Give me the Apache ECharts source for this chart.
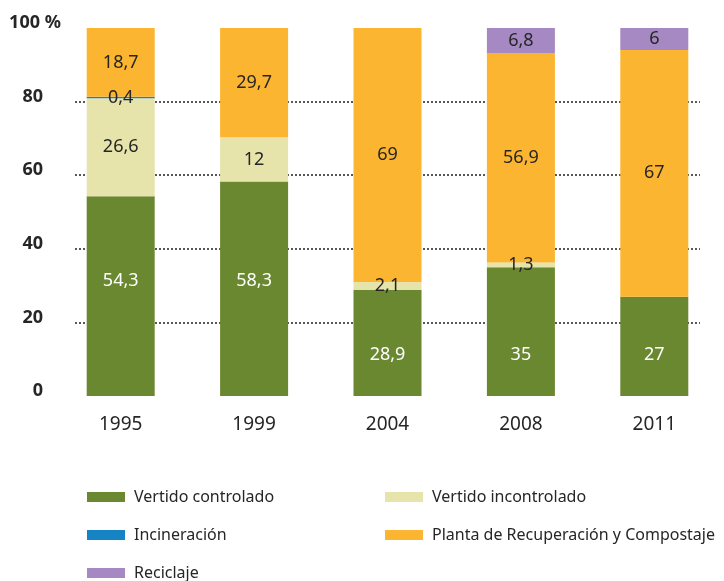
<!DOCTYPE html>
<html>
<head>
<meta charset="utf-8">
<script src="https://cdn.jsdelivr.net/npm/echarts@6/dist/echarts.min.js"></script>
<style>
  html, body { margin: 0; padding: 0; background: #fff; }
  #chart { width: 724px; height: 581px; }
</style>
</head>
<body>
<div id="chart"></div>
<script>
// datos (%)
const years = ['1995', '1999', '2004', '2008', '2011']
const vertidoControlado = [54.3, 58.3, 28.9, 35, 27]
const vertidoIncontrolado = [26.6, 12, 2.1, 1.3, 0]
const incineracion = [0.4, 0, 0, 0, 0]
const plantaRecuperacion = [18.7, 29.7, 69, 56.9, 67]
const reciclaje = [0, 0, 0, 6.8, 6]
const yTicks = [0, 20, 40, 60, 80, 100]

const FONT = '"Noto Sans", sans-serif'
const DARK = '#262626'

// etiquetas verdes algo desplazadas en el original
const greenLabelDist = [106, 106, 32, 32, 32]

const fmt = v => v ? String(v).replace('.', ',') : ''

function labelStyle(color) {
  return {
    show: true,
    position: 'inside',
    color: color,
    fontFamily: FONT,
    fontSize: 18,
    formatter: p => fmt(p.value)
  }
}

function barSeries(name, values, color, labelColor) {
  return {
    name: name,
    type: 'bar',
    stack: 'total',
    xAxisIndex: 1,
    yAxisIndex: 1,
    barWidth: 68,
    itemStyle: { color: color },
    label: labelStyle(labelColor),
    data: values
  }
}

const series = [
  barSeries('Vertido controlado', vertidoControlado, '#6a8830', '#ffffff'),
  barSeries('Vertido incontrolado', vertidoIncontrolado, '#e6e4aa', DARK),
  barSeries('Incineración', incineracion, '#1683c4', DARK),
  barSeries('Planta de Recuperación y Compostaje', plantaRecuperacion, '#fbb530', DARK),
  barSeries('Reciclaje', reciclaje, '#a688c2', DARK)
]
series[0].data = vertidoControlado.map((v, i) => ({
  value: v,
  label: { position: 'insideBottom', distance: greenLabelDist[i] }
}))

const legendText = {
  fontFamily: FONT,
  fontSize: 16,
  color: DARK,
  lineHeight: 16,
  padding: [0, 0, 0, 4]
}

const legendBase = {
  top: 489, orient: 'vertical', padding: 0,
  itemWidth: 38, itemHeight: 10, itemGap: 22, icon: 'rect',
  textStyle: legendText
}

const option = {
  animation: false,
  grid: [
    { left: 75, right: 24, top: 28, bottom: 185 },
    { left: 54, right: 3, top: 28, bottom: 185 }
  ],
  legend: [
    Object.assign({ left: 87, data: ['Vertido controlado', 'Incineración', 'Reciclaje'] }, legendBase),
    Object.assign({ left: 385, data: ['Vertido incontrolado', 'Planta de Recuperación y Compostaje'] }, legendBase)
  ],
  xAxis: [
    { type: 'category', gridIndex: 0, data: years, show: false },
    {
      type: 'category', gridIndex: 1, data: years,
      axisLine: { show: false },
      axisTick: { show: false },
      axisLabel: { margin: 19, color: DARK, fontFamily: FONT, fontSize: 19 }
    }
  ],
  yAxis: [
    {
      type: 'value', gridIndex: 0,
      min: yTicks[0], max: yTicks[yTicks.length - 1], interval: 20,
      axisLine: { show: false },
      axisTick: { show: false },
      axisLabel: {
        margin: 32,
        color: DARK,
        fontFamily: FONT,
        fontSize: 18,
        fontWeight: 'bold',
        padding: [0, 0, 10, 0],
        formatter: v => v === 100 ? '{n|100}{p| %}' : String(v),
        rich: {
          n: { fontFamily: FONT, fontSize: 18, fontWeight: 'bold', color: DARK, align: 'left' },
          p: { fontFamily: FONT, fontSize: 18, fontWeight: 'bold', color: DARK, align: 'left', width: 3 }
        }
      },
      splitLine: {
        show: true,
        showMinLine: false,
        showMaxLine: false,
        lineStyle: { color: '#222', type: [2, 2], width: 1.5 }
      }
    },
    { type: 'value', gridIndex: 1, min: 0, max: 100, show: false, splitLine: { show: false } }
  ],
  series: series
}

const chart = echarts.init(document.getElementById('chart'))
chart.setOption(option)
</script>
</body>
</html>
